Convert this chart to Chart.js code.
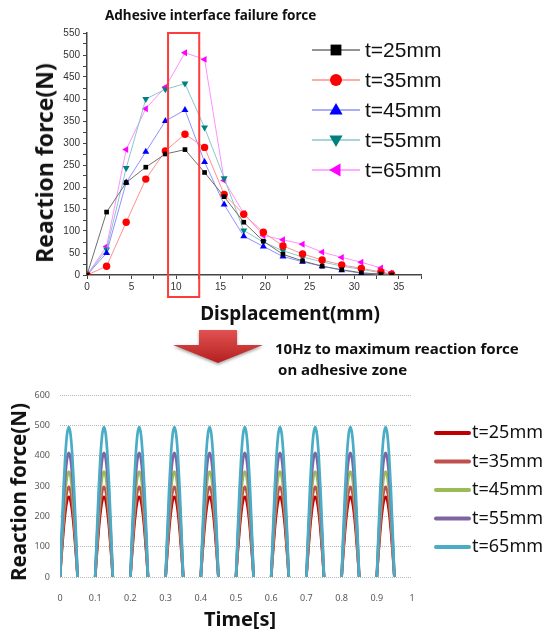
<!DOCTYPE html>
<html>
<head>
<meta charset="utf-8">
<script src="https://cdn.jsdelivr.net/npm/chart.js@4/dist/chart.umd.min.js"></script>
<style>
  body { margin: 0; background: #fff; width: 547px; height: 635px; overflow: hidden; position: relative; }
  canvas { position: absolute; left: 0; }
  .lbl { position: absolute; font-family: "Noto Sans", sans-serif; font-weight: bold; color: #111; white-space: nowrap; }
  .rot { transform: translate(-50%, -50%) rotate(-90deg); }
  .ctr { transform: translate(-50%, -50%); }
</style>
</head>
<body>
<canvas id="top" width="547" height="330" style="top:0"></canvas>
<canvas id="bottom" width="547" height="255" style="top:380px"></canvas>

<div class="lbl" style="left:105px; top:6px; font-size:13.5px;">Adhesive interface failure force</div>
<div class="lbl rot" style="left:44px; top:163px; font-size:23px;">Reaction force(N)</div>
<div class="lbl ctr" style="left:290px; top:313px; font-size:19px;">Displacement(mm)</div>

<svg style="position:absolute; left:165px; top:325px;" width="105" height="45">
  <defs>
    <linearGradient id="ag" x1="0" y1="0" x2="0" y2="1">
      <stop offset="0" stop-color="#e25252"/>
      <stop offset="1" stop-color="#b51f1f"/>
    </linearGradient>
    <filter id="sh" x="-20%" y="-20%" width="140%" height="160%">
      <feDropShadow dx="0" dy="1.5" stdDeviation="1.5" flood-color="#777" flood-opacity="0.7"/>
    </filter>
  </defs>
  <polygon points="34,5 72,5 72,20 98,20 53,38 8,20 34,20" fill="url(#ag)" filter="url(#sh)"/>
</svg>

<div class="lbl" style="left:275px; top:338px; font-size:15px;">10Hz to maximum reaction force</div>
<div class="lbl" style="left:278px; top:359px; font-size:15px;">on adhesive zone</div>

<div class="lbl rot" style="left:18px; top:492px; font-size:20.5px;">Reaction force(N)</div>
<div class="lbl ctr" style="left:240px; top:618px; font-size:20px;">Time[s]</div>

<script>
// ---- data: displacement test (top chart) ----
const displacement = [0, 2.2, 4.4, 6.6, 8.8, 11, 13.2, 15.4, 17.6, 19.8, 22, 24.2, 26.4, 28.6, 30.8, 33, 34.2];
const force25 = [0, 143, 210, 245, 275, 285, 233, 178, 120, 77, 47, 32, 20, 12, 5, 2, 0];
const force35 = [0, 20, 120, 218, 282, 320, 290, 183, 138, 97, 66, 48, 34, 23, 15, 7, 2];
const force45 = [0, 50, 210, 280, 350, 375, 257, 160, 88, 65, 42, 30, 20, 11, 4, 2, 3];
const force55 = [0, 58, 243, 400, 422, 435, 335, 220, 101, 75, 55, 41, 30, 20, 13, 5, 2];
const force65 = [0, 65, 285, 378, 427, 505, 490, 215, 140, 90, 80, 70, 52, 40, 29, 16, 4];
const seriesLabels = ['t=25mm', 't=35mm', 't=45mm', 't=55mm', 't=65mm'];
// highlighted zone: displacement 9.1..12.6 mm
const zoneX = [9.1, 12.6];
const zoneY = [-50, 550];

// ---- data: 10 Hz cyclic load (bottom chart) ----
const cycleStarts = [0, 0.1, 0.2, 0.3, 0.4, 0.5, 0.6, 0.7, 0.8, 0.9];
const pulseOffsets = [0, 0.005, 0.01, 0.015, 0.02, 0.025, 0.03, 0.035, 0.04, 0.045, 0.05];
const pulse25 = [0, 82, 156, 214, 252, 265, 252, 214, 156, 82, 0];
const pulse35 = [0, 92, 175, 241, 283, 298, 283, 241, 175, 92, 0];
const pulse45 = [0, 108, 205, 282, 331, 348, 331, 282, 205, 108, 0];
const pulse55 = [0, 127, 241, 332, 390, 410, 390, 332, 241, 127, 0];
const pulse65 = [0, 153, 291, 400, 471, 495, 471, 400, 291, 153, 0];
const timeTicks = [0, 0.1, 0.2, 0.3, 0.4, 0.5, 0.6, 0.7, 0.8, 0.9, 1];

// styles
const markerColors = ['#000000', '#ff0000', '#0000ff', '#008080', '#ff00ff'];
const lineColors = ['#707070', '#ff9090', '#9090ff', '#88c8c8', '#ff90ff'];
const markerStyles = ['rect', 'circle', 'triangle', 'triangle', 'triangle'];
const markerRotations = [0, 0, 0, 180, -90];
const markerSizes = [3.3, 3.7, 4, 4, 4];
const pulseColors = ['#c00000', '#c0504d', '#9bbb59', '#8064a2', '#4bacc6'];

function drawMarker(ctx, style, rot, x, y, r) {
	ctx.save();
	ctx.translate(x, y);
	ctx.rotate(rot * Math.PI / 180);
	ctx.beginPath();
	if (style === 'rect') {
		ctx.rect(-r * 0.9, -r * 0.9, r * 1.8, r * 1.8);
	} else if (style === 'circle') {
		ctx.arc(0, 0, r, 0, Math.PI * 2);
	} else {
		ctx.moveTo(0, -r * 1.15);
		ctx.lineTo(r * 1.1, r * 0.75);
		ctx.lineTo(-r * 1.1, r * 0.75);
		ctx.closePath();
	}
	ctx.fill();
	ctx.restore();
}

// red box + legend for the top chart
const topExtras = {
	id: 'topExtras',
	afterDatasetsDraw(chart) {
		const ctx = chart.ctx;
		const xs = chart.scales.x, ys = chart.scales.y;
		ctx.save();
		ctx.strokeStyle = '#ff3b3b';
		ctx.lineWidth = 2;
		const x0 = xs.getPixelForValue(zoneX[0]), x1 = xs.getPixelForValue(zoneX[1]);
		const y0 = ys.getPixelForValue(zoneY[1]), y1 = ys.getPixelForValue(zoneY[0]);
		ctx.strokeRect(x0, y0, x1 - x0, y1 - y0);

		chart.data.datasets.forEach((ds, i) => {
			const y = 50 + 30 * i;
			ctx.strokeStyle = lineColors[i];
			ctx.lineWidth = 1.5;
			ctx.beginPath();
			ctx.moveTo(312, y);
			ctx.lineTo(360, y);
			ctx.stroke();
			ctx.fillStyle = markerColors[i];
			drawMarker(ctx, markerStyles[i], markerRotations[i], 336, y, 6);
			ctx.fillStyle = '#111';
			ctx.font = '21px "Liberation Sans", Arial, sans-serif';
			ctx.textBaseline = 'middle';
			ctx.fillText(ds.label, 365, y + 1);
		});
		ctx.restore();
	}
};

const topSeries = [force25, force35, force45, force55, force65];
new Chart(document.getElementById('top'), {
	type: 'line',
	data: {
		datasets: topSeries.map((vals, i) => ({
			label: seriesLabels[i],
			data: displacement.map((x, j) => ({ x: x, y: vals[j] })),
			borderColor: lineColors[i],
			borderWidth: 1,
			backgroundColor: markerColors[i],
			pointBackgroundColor: markerColors[i],
			pointBorderColor: markerColors[i],
			pointBorderWidth: 0,
			pointStyle: markerStyles[i],
			pointRotation: markerRotations[i],
			pointRadius: markerSizes[i],
			tension: 0,
		})),
	},
	options: {
		responsive: false,
		animation: false,
		layout: { padding: { top: 33, right: 126, left: 0, bottom: 0 } },
		plugins: { legend: { display: false }, tooltip: { enabled: false } },
		scales: {
			x: {
				type: 'linear', min: 0, max: 37.5,
				afterFit: (s) => { s.height = 55; },
				ticks: {
					stepSize: 2.5, includeBounds: false, autoSkip: false, maxRotation: 0, padding: 2,
					color: '#333', font: { family: '"Liberation Sans", Arial', size: 10 },
					callback: (v) => (v % 5 === 0 ? v : ''),
				},
				grid: { drawOnChartArea: false, tickLength: 4, color: '#444' },
				border: { color: '#444', width: 1.5 },
			},
			y: {
				min: 0, max: 550,
				afterFit: (s) => { s.width = 87; },
				ticks: {
					stepSize: 25, autoSkip: false, padding: 3,
					color: '#333', font: { family: '"Liberation Sans", Arial', size: 10 },
					callback: (v) => (v % 50 === 0 ? v : ''),
				},
				grid: { drawOnChartArea: false, tickLength: 4, color: '#444' },
				border: { color: '#444', width: 1.5 },
			},
		},
	},
	plugins: [topExtras],
});

// legend for the bottom chart
const bottomLegend = {
	id: 'bottomLegend',
	afterDraw(chart) {
		const ctx = chart.ctx;
		ctx.save();
		chart.data.datasets.forEach((ds, i) => {
			const y = 53 + 28.5 * i;
			ctx.strokeStyle = pulseColors[i];
			ctx.lineWidth = 4;
			ctx.lineCap = 'round';
			ctx.beginPath();
			ctx.moveTo(436, y);
			ctx.lineTo(469, y);
			ctx.stroke();
			ctx.fillStyle = '#111';
			ctx.font = '18px "Noto Sans", sans-serif';
			ctx.textBaseline = 'middle';
			ctx.fillText(ds.label, 472, y);
		});
		ctx.restore();
	}
};

// each pulse is followed by a gap (no line along zero between pulses)
function pulseTrain(pulse) {
	const pts = [];
	cycleStarts.forEach((t0) => {
		pulseOffsets.forEach((dt, j) => pts.push({ x: t0 + dt, y: pulse[j] }));
		pts.push({ x: t0 + 0.075, y: null });
	});
	return pts;
}

const pulseSeries = [pulse25, pulse35, pulse45, pulse55, pulse65];
new Chart(document.getElementById('bottom'), {
	type: 'line',
	data: {
		datasets: pulseSeries.map((pulse, i) => ({
			label: seriesLabels[i],
			data: pulseTrain(pulse),
			borderColor: pulseColors[i],
			borderWidth: 2.7,
			pointRadius: 0,
			spanGaps: false,
			cubicInterpolationMode: 'monotone',
			order: 4 - i,
		})),
	},
	options: {
		responsive: false,
		animation: false,
		layout: { padding: { top: 9, right: 135, left: 0, bottom: 0 } },
		plugins: { legend: { display: false }, tooltip: { enabled: false } },
		scales: {
			x: {
				type: 'linear', min: 0, max: 1,
				afterFit: (s) => { s.height = 58; },
				afterBuildTicks: (s) => { s.ticks = timeTicks.map((v) => ({ value: v })); },
				ticks: {
					autoSkip: false, maxRotation: 0, padding: 8,
					color: '#595959', font: { family: '"Noto Sans"', size: 9 },
					callback: (v) => String(Number(v.toFixed(1))),
				},
				grid: { display: false },
				border: { display: false },
			},
			y: {
				min: 0, max: 600,
				afterFit: (s) => { s.width = 60; },
				ticks: {
					stepSize: 100, padding: 10,
					color: '#595959', font: { family: '"Noto Sans"', size: 9 },
				},
				grid: { color: '#b8b8b8', drawTicks: false, lineWidth: 1 },
				border: { display: false, dash: [1, 1] },
			},
		},
	},
	plugins: [bottomLegend],
});
</script>
</body>
</html>
